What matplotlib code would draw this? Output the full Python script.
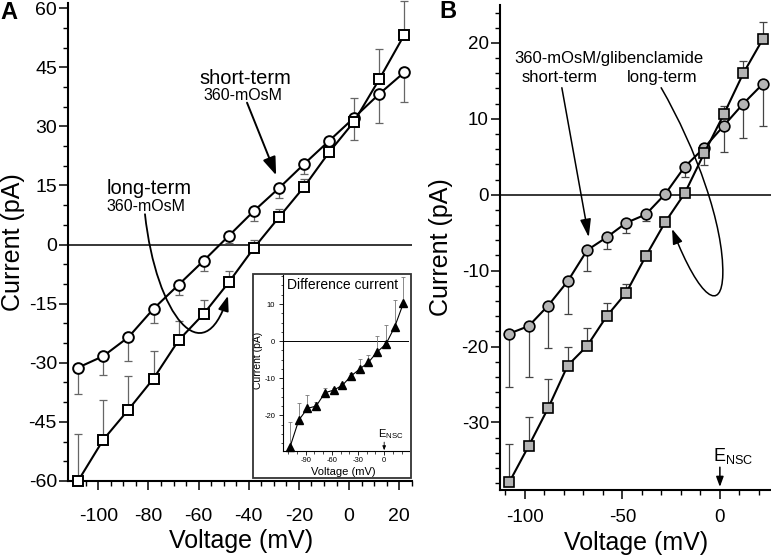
#!/bin/env python
# Current-voltage curves, 360 mOsM short/long-term (A) and with glibenclamide (B)
import numpy as np
import matplotlib.pyplot as plt
from matplotlib.patches import FancyArrowPatch, Rectangle
from matplotlib.path import Path
from matplotlib.ticker import MultipleLocator

plt.rcParams['font.family'] = ['Liberation Sans', 'DejaVu Sans']
plt.rcParams['mathtext.fontset'] = 'custom'
plt.rcParams['mathtext.rm'] = 'Liberation Sans'
plt.rcParams['axes.unicode_minus'] = False

voltage = [-108, -98, -88, -78, -68, -58, -48, -38, -28, -18, -8, 2, 12, 22]

# panel A: 360-mOsM
a_short = [-31.2, -28.3, -23.5, -16.3, -10.2, -4.1, 2.2, 8.5, 14.3, 20.4, 26.3, 32.2, 38.2, 43.7]
a_short_sem = [6.8, 4.7, 6.0, 3.6, 2.6, 2.5, 1.7, 2.5, 2.5, 2.5, 1.8, 5.6, 7.3, 7.4]
a_long = [-59.9, -49.5, -41.9, -34.0, -24.3, -17.6, -9.6, -0.9, 6.9, 14.6, 23.4, 31.2, 41.9, 53.2]
a_long_sem = [11.8, 10.0, 8.5, 6.9, 5.0, 3.6, 2.8, 2.1, 2.1, 2.0, 1.5, 6.1, 7.8, 8.7]

# inset: difference current
diff = [-28.5, -21.3, -18.1, -17.5, -13.9, -13.2, -11.9, -9.4, -7.5, -5.7, -2.9, -0.8, 3.8, 10.2]
diff_sem = [6.6, 4.7, 3.5, 1.2, 1.2, 0.6, 0.5, 0.8, 2.6, 2.1, 4.2, 5.1, 7.3, 7.0]

# panel B: 360-mOsM/glibenclamide
b_short = [-18.3, -17.3, -14.6, -11.4, -7.3, -5.6, -3.7, -2.6, 0.1, 3.7, 6.2, 9.1, 12.0, 14.6]
b_short_sem = [7.0, 6.7, 5.6, 4.3, 2.7, 1.6, 1.3, 0.8, 0.3, 1.4, 2.3, 3.5, 4.5, 5.5]
b_long = [-37.9, -33.1, -28.1, -22.5, -19.9, -16.0, -12.9, -8.1, -3.6, 0.2, 5.5, 10.6, 16.0, 20.5]
b_long_sem = [5.0, 3.8, 3.8, 2.5, 2.4, 1.7, 1.2, 0.6, 0.6, 0.4, 1.0, 1.1, 1.6, 2.3]


def style_axes(ax, ticksize, xpad):
    for s in ['top', 'right']:
        ax.spines[s].set_visible(False)
    for s in ['left', 'bottom']:
        ax.spines[s].set_linewidth(1.5)
    ax.tick_params(which='major', direction='out', length=6.5, width=1.1, labelsize=ticksize)
    ax.tick_params(which='minor', direction='out', length=3.5, width=1.0)
    ax.tick_params(axis='y', which='major', pad=1.5)
    ax.tick_params(axis='x', which='major', pad=xpad)


def plot_series(ax, y, sem, marker, face, down, ms, mew, ecol):
    zeros = np.zeros(len(sem))
    yerr = [sem, zeros] if down else [zeros, sem]
    ax.errorbar(voltage, y, yerr=yerr, fmt='none', ecolor=ecol, elinewidth=0.9,
                capsize=3, capthick=0.9, zorder=2, clip_on=False)
    ax.plot(voltage, y, '-', color='k', lw=1.5, marker=marker, ms=ms, mfc=face,
            mec='k', mew=mew, zorder=3, clip_on=False)


def curve_arrow(ax, verts, lw, hl, hw):
    codes = [Path.MOVETO] + [Path.CURVE4] * (len(verts) - 1)
    arr = FancyArrowPatch(path=Path(verts, codes), arrowstyle='-|>,head_length=%g,head_width=%g' % (hl, hw),
                          lw=lw, color='k', zorder=4)
    ax.add_patch(arr)


def straight_arrow(ax, start, tip, lw, hl, hw):
    arr = FancyArrowPatch(start, tip, arrowstyle='-|>,head_length=%g,head_width=%g' % (hl, hw),
                          lw=lw, color='k', shrinkA=0, shrinkB=0, zorder=4)
    ax.add_patch(arr)


fig = plt.figure(figsize=(7.71, 5.56), dpi=100)

# ---------------- panel A
axA = fig.add_axes([0.0882, 0.1349, 0.4462, 0.8597])
axA.axhline(0, color='k', lw=1.1, zorder=1)
plot_series(axA, a_short, a_short_sem, 'o', 'white', True, 7.7, 1.4, '#666666')
plot_series(axA, a_long, a_long_sem, 's', 'white', False, 7.5, 1.4, '#666666')
axA.set_xlim(-112.1, 25.1)
axA.set_ylim(-60, 61.3)
axA.set_xticks([-100, -80, -60, -40, -20, 0, 20])
axA.set_yticks([-60, -45, -30, -15, 0, 15, 30, 45, 60])
axA.xaxis.set_minor_locator(MultipleLocator(5))
axA.yaxis.set_minor_locator(MultipleLocator(5))
style_axes(axA, 14, 13)
axA.text(0.502, -0.1255, 'Voltage (mV)', transform=axA.transAxes, ha='center', va='center', fontsize=18)
axA.text(-0.16, 0.5, 'Current (pA)', transform=axA.transAxes, ha='center', va='center',
         rotation=90, fontsize=18)

axA.text(-41.3, 42.1, 'short-term', ha='center', va='center', fontsize=14.5)
axA.text(-42.5, 37.9, '360-mOsM', ha='center', va='center', fontsize=11.5)
straight_arrow(axA, (-40.7, 36.0), (-29.1, 17.6), 1.4, 11, 4)
axA.text(-79.6, 14.3, 'long-term', ha='center', va='center', fontsize=14.5)
axA.text(-81.2, 9.7, '360-mOsM', ha='center', va='center', fontsize=11.5)
curve_arrow(axA, [(-81.4, 7.7), (-77, -18), (-58, -33), (-48.3, -13)], 1.3, 9, 3.2)

# inset frame and axes
fig.add_artist(Rectangle((0.3281, 0.1403), 0.2049, 0.3669, transform=fig.transFigure,
                         fill=False, lw=1.3, ec='#333333'))
ins = fig.add_axes([0.3677, 0.1888, 0.1628, 0.3165])
ins.patch.set_alpha(0)
ins.axhline(0, color='k', lw=0.7, zorder=1)
ins.errorbar(voltage, diff, yerr=[np.zeros(len(diff_sem)), diff_sem], fmt='none', ecolor='#777777',
             elinewidth=0.6, capsize=1.5, capthick=0.6, zorder=2, clip_on=False)
ins.plot(voltage, diff, '-', color='k', lw=0.8, marker='^', ms=6, zorder=3, clip_on=False)
ins.set_xlim(-115.5, 28.5)
ins.set_ylim(-29.6, 17.8)
ins.set_xticks([-90, -60, -30, 0])
ins.set_yticks([-20, -10, 0, 10])
ins.xaxis.set_minor_locator(MultipleLocator(10))
ins.yaxis.set_minor_locator(MultipleLocator(2.5))
for s in ['top', 'right']:
    ins.spines[s].set_visible(False)
for s in ['left', 'bottom']:
    ins.spines[s].set_linewidth(0.8)
ins.tick_params(which='major', direction='out', length=3, width=0.6, labelsize=5.5, pad=1.5)
ins.tick_params(which='minor', direction='out', length=1.8, width=0.5)
ins.tick_params(axis='y', which='major', pad=3)
ins.text(0.028, 0.943, 'Difference current', transform=ins.transAxes, ha='left', va='center', fontsize=10)
ins.text(0.476, -0.118, 'Voltage (mV)', transform=ins.transAxes, ha='center', va='center', fontsize=8)
ins.text(-0.205, 0.514, 'Current (pA)', transform=ins.transAxes, ha='center', va='center',
         rotation=90, fontsize=7.5)
ins.text(-6.8, -27.0, r'$\mathrm{E}_{\mathrm{NSC}}$', ha='left', va='bottom', fontsize=8)
straight_arrow(ins, (0, -27.2), (0, -29.4), 0.6, 2.5, 1.0)

# ---------------- panel B
axB = fig.add_axes([0.6485, 0.1187, 0.3515, 0.8723])
axB.axhline(0, color='k', lw=1.1, zorder=1)
plot_series(axB, b_short, b_short_sem, 'o', '#b4b4b4', True, 7.7, 1.2, '#444444')
plot_series(axB, b_long, b_long_sem, 's', '#b4b4b4', False, 7.3, 1.2, '#444444')
axB.set_xlim(-112.7, 26.2)
axB.set_ylim(-38.9, 25)
axB.set_xticks([-100, -50, 0])
axB.set_yticks([-30, -20, -10, 0, 10, 20])
axB.xaxis.set_minor_locator(MultipleLocator(10))
axB.yaxis.set_minor_locator(MultipleLocator(2))
style_axes(axB, 13.5, 7)
axB.text(0.502, -0.109, 'Voltage (mV)', transform=axB.transAxes, ha='center', va='center', fontsize=18)
axB.text(-0.218, 0.5, 'Current (pA)', transform=axB.transAxes, ha='center', va='center',
         rotation=90, fontsize=18)

axB.text(-56.7, 17.9, '360-mOsM/glibenclamide', ha='center', va='center', fontsize=12)
axB.text(-81.9, 15.4, 'short-term', ha='center', va='center', fontsize=12)
axB.text(-29.7, 15.5, 'long-term', ha='center', va='center', fontsize=12)
straight_arrow(axB, (-81.0, 14.1), (-67.2, -5.6), 1.1, 11, 3.3)
curve_arrow(axB, [(-30.1, 14.1), (-12, 6), (2, -4), (1.5, -10.5),
                  (1, -15.5), (-10, -14), (-24.5, -4.5)], 1.1, 9, 3)
axB.text(-3.5, -35.8, r'$\mathrm{E}_{\mathrm{NSC}}$', ha='left', va='bottom', fontsize=13)
straight_arrow(axB, (0, -35.9), (0, -38.5), 1.1, 6, 2.2)

fig.text(0.0117, 0.9775, 'A', ha='center', va='center', fontsize=17, fontweight='bold')
fig.text(0.5804, 0.9793, 'B', ha='center', va='center', fontsize=17, fontweight='bold')

fig.savefig('out.png', dpi=100)
plt.close(fig)
